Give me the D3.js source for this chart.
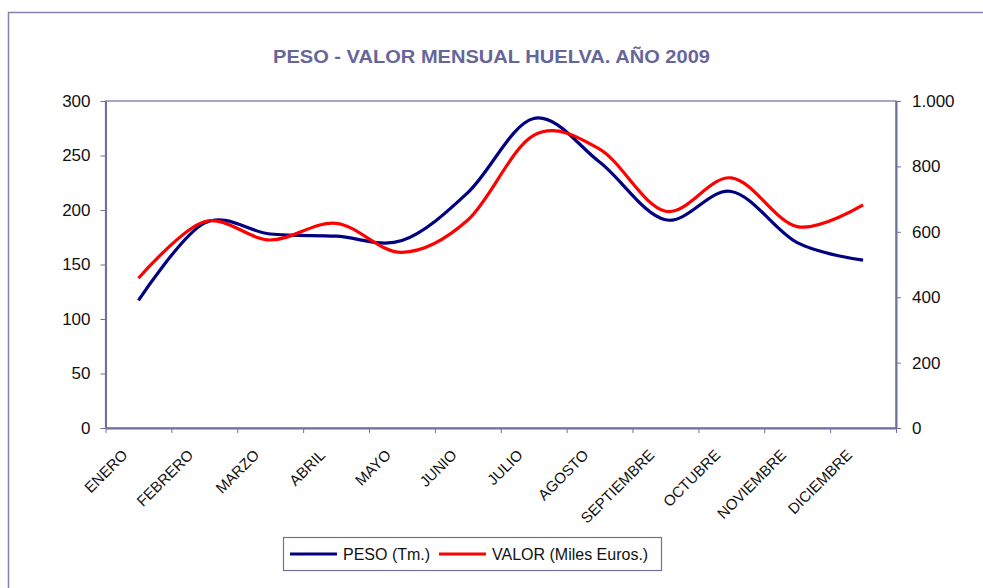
<!DOCTYPE html>
<html>
<head>
<meta charset="utf-8">
<script src="https://cdnjs.cloudflare.com/ajax/libs/d3/7.8.5/d3.min.js"></script>
<style>
  body { margin: 0; background: #fff; }
  svg { display: block; font-family: "Liberation Sans", Arial, sans-serif; }
  .axis path, .axis line { stroke: #6f6fa0; }
  .axis text { fill: #111; }
</style>
</head>
<body>
<script>
// data
const meses = ["ENERO", "FEBRERO", "MARZO", "ABRIL", "MAYO", "JUNIO", "JULIO",
               "AGOSTO", "SEPTIEMBRE", "OCTUBRE", "NOVIEMBRE", "DICIEMBRE"];
const peso = [117, 188, 178, 176, 172, 216, 284, 244, 191, 217, 170, 154];    // Tm.
const valor = [458, 631, 575, 626, 537, 636, 895, 853, 663, 765, 616, 682];  // Miles Euros
const pesoTicks = [0, 50, 100, 150, 200, 250, 300];
const valorTicks = [0, 200, 400, 600, 800, 1000];

const W = 983, H = 588;
const plot = {left: 105.5, right: 896, top: 101, bottom: 428};
const axisColor = "#6f6fa0";

const svg = d3.select("body").append("svg")
    .attr("width", W)
    .attr("height", H);

// outer chart frame (runs off the right/bottom edge)
svg.append("rect")
    .attr("x", 8.5).attr("y", 12.5)
    .attr("width", 1000).attr("height", 600)
    .attr("fill", "none")
    .attr("stroke", "#8383ad")
    .attr("stroke-width", 1.5);

// title
svg.append("text")
    .attr("x", 491.5)
    .attr("y", 63)
    .attr("text-anchor", "middle")
    .attr("font-size", 18)
    .attr("font-weight", "bold")
    .attr("fill", "#66669a")
    .attr("textLength", 437)
    .attr("lengthAdjust", "spacingAndGlyphs")
    .text("PESO - VALOR MENSUAL HUELVA. AÑO 2009");

// scales
var xi = d3.scaleLinear().domain([0, meses.length]).range([plot.left, plot.right]);
var x = function(i) { return xi(i + 0.5); };
var yL = d3.scaleLinear().domain([0, 300]).range([plot.bottom, plot.top]);
var yR = d3.scaleLinear().domain([0, 1000]).range([plot.bottom, plot.top]);

const es = d3.formatLocale({decimal: ",", thousands: ".", grouping: [3], currency: ["", " €"]});

// plot area border
svg.append("rect")
    .attr("x", plot.left).attr("y", plot.top)
    .attr("width", plot.right - plot.left)
    .attr("height", plot.bottom - plot.top)
    .attr("fill", "none")
    .attr("stroke", axisColor)
    .attr("stroke-width", 1.2);

// left axis
svg.append("g")
    .attr("class", "axis")
    .attr("transform", "translate(" + plot.left + ",0)")
    .call(d3.axisLeft(yL).tickValues(pesoTicks).tickSize(5).tickPadding(10).tickSizeOuter(0))
    .call(g => g.selectAll("text").attr("font-size", 17))
    .call(g => g.select(".domain").attr("stroke-width", 2));

// right axis
svg.append("g")
    .attr("class", "axis")
    .attr("transform", "translate(" + plot.right + ",0)")
    .call(d3.axisRight(yR).tickValues(valorTicks).tickSize(5).tickPadding(11).tickSizeOuter(0)
        .tickFormat(es.format(",d")))
    .call(g => g.selectAll("text").attr("font-size", 17))
    .call(g => g.select(".domain").attr("stroke-width", 2));

// bottom axis: tick marks on the category boundaries
svg.append("g")
    .attr("class", "axis")
    .attr("transform", "translate(0," + plot.bottom + ")")
    .call(d3.axisBottom(xi).ticks(meses.length).tickFormat("").tickSize(5).tickSizeOuter(0))
    .call(g => g.select(".domain").attr("stroke-width", 2));

// month labels, rotated
svg.selectAll(".mes")
    .data(meses)
    .enter()
    .append("text")
    .attr("class", "mes")
    .attr("transform", (d, i) => "translate(" + (x(i) - 10) + ",456) rotate(-45)")
    .attr("text-anchor", "end")
    .attr("font-size", 15)
    .attr("fill", "#111")
    .text(d => d);

// lines
var pesoLine = d3.line()
    .x((d, i) => x(i))
    .y(d => yL(d))
    .curve(d3.curveCatmullRom.alpha(0));

var valorLine = d3.line()
    .x((d, i) => x(i))
    .y(d => yR(d))
    .curve(d3.curveCatmullRom.alpha(0));

svg.append("path")
    .datum(peso)
    .attr("fill", "none")
    .attr("stroke", "#000080")
    .attr("stroke-width", 3.2)
    .attr("d", pesoLine);

svg.append("path")
    .datum(valor)
    .attr("fill", "none")
    .attr("stroke", "#ff0000")
    .attr("stroke-width", 3.2)
    .attr("d", valorLine);

// legend
var legend = svg.append("g");
legend.append("rect")
    .attr("x", 283.5).attr("y", 537.5)
    .attr("width", 378).attr("height", 33)
    .attr("fill", "#fff")
    .attr("stroke", axisColor)
    .attr("stroke-width", 1.2);

var items = [
    {label: "PESO (Tm.)", color: "#000080", x: 290},
    {label: "VALOR (Miles Euros.)", color: "#ff0000", x: 439}
];
items.forEach(function(it) {
    legend.append("line")
        .attr("x1", it.x).attr("x2", it.x + 47)
        .attr("y1", 554).attr("y2", 554)
        .attr("stroke", it.color)
        .attr("stroke-width", 3.2);
    legend.append("text")
        .attr("x", it.x + 53)
        .attr("y", 560)
        .attr("font-size", 16)
        .attr("fill", "#111")
        .text(it.label);
});
</script>
</body>
</html>
